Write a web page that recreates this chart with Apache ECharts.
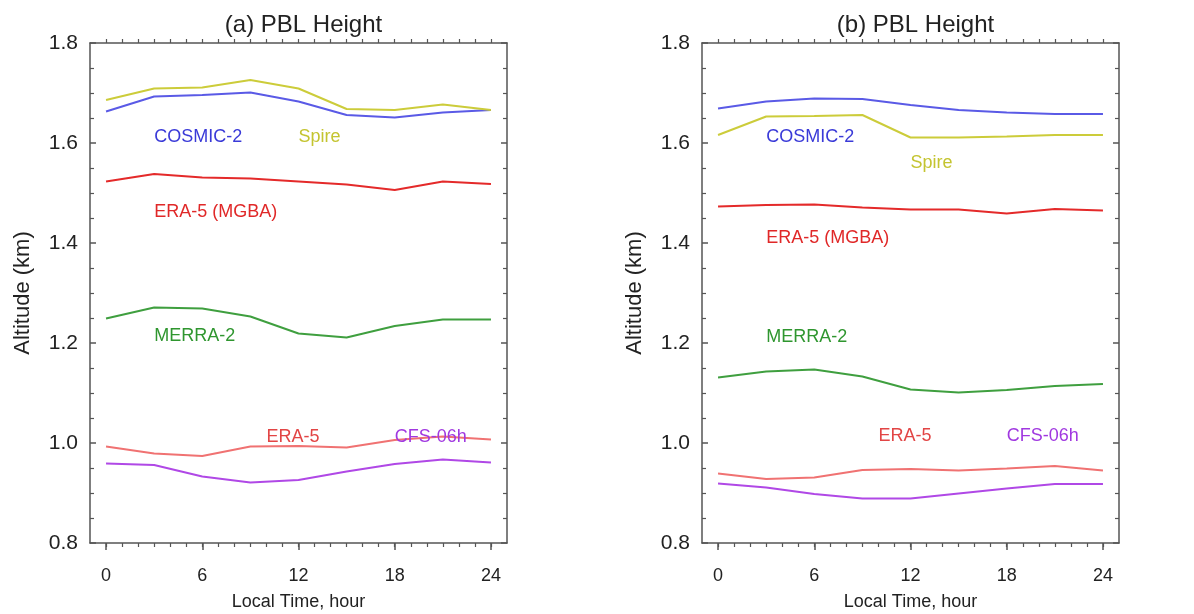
<!DOCTYPE html>
<html>
<head>
<meta charset="utf-8">
<script src="https://cdn.jsdelivr.net/npm/echarts@6/dist/echarts.min.js"></script>
<style>
html,body{margin:0;padding:0;background:#fff;}
#c{width:1194px;height:614px;}
</style>
</head>
<body>
<div id="c"></div>
<script>
// ---- data ----
const hours = [0, 3, 6, 9, 12, 15, 18, 21, 24];
const xTickLabels = [0, 6, 12, 18, 24];
const xMinorTicks = [0,1,2,3,4,5,6,7,8,9,10,11,12,13,14,15,16,17,18,19,20,21,22,23,24];
const panelTitles = ['(a) PBL Height', '(b) PBL Height'];
const seriesNames = ['COSMIC-2', 'Spire', 'ERA-5 (MGBA)', 'MERRA-2', 'ERA-5', 'CFS-06h'];

// panel (a)
const aCosmic = [1.663, 1.693, 1.696, 1.701, 1.683, 1.656, 1.651, 1.661, 1.666];
const aSpire  = [1.686, 1.709, 1.711, 1.726, 1.709, 1.668, 1.666, 1.677, 1.666];
const aEraMgba= [1.523, 1.538, 1.531, 1.529, 1.523, 1.517, 1.506, 1.523, 1.518];
const aMerra  = [1.249, 1.271, 1.269, 1.253, 1.219, 1.211, 1.234, 1.247, 1.247];
const aEra5   = [0.993, 0.979, 0.974, 0.993, 0.994, 0.991, 1.006, 1.013, 1.007];
const aCfs    = [0.959, 0.956, 0.933, 0.921, 0.926, 0.943, 0.958, 0.967, 0.961];

// panel (b)
const bCosmic = [1.669, 1.683, 1.689, 1.688, 1.676, 1.666, 1.661, 1.658, 1.658];
const bSpire  = [1.616, 1.653, 1.654, 1.656, 1.611, 1.611, 1.613, 1.616, 1.616];
const bEraMgba= [1.473, 1.476, 1.477, 1.471, 1.467, 1.467, 1.459, 1.468, 1.465];
const bMerra  = [1.131, 1.143, 1.147, 1.133, 1.107, 1.101, 1.106, 1.114, 1.118];
const bEra5   = [0.939, 0.928, 0.931, 0.946, 0.948, 0.945, 0.949, 0.954, 0.945];
const bCfs    = [0.919, 0.911, 0.898, 0.889, 0.889, 0.899, 0.909, 0.918, 0.918];

// in-plot label anchors (data units: hour, km)
const aLabelAt = [[3, 1.612], [12, 1.612], [3, 1.462], [3, 1.214], [10, 1.012], [18, 1.012]];
const bLabelAt = [[3, 1.612], [12, 1.560], [3, 1.410], [3, 1.212], [10, 1.014], [18, 1.014]];

// ---- styles ----
const lineColors = ['#5a5ae6', '#cccc3a', '#e42a2a', '#3f9f3f', '#f07272', '#b048e6'];
const textColors = ['#3a3ad8', '#c4c430', '#e02828', '#2f962f', '#e24545', '#a038e0'];
const FONT = '"Liberation Sans", Arial, Helvetica, sans-serif';
const AX = '#555';

const grids = [
  {left: 90, top: 43, width: 417, height: 500, outerBoundsMode: 'none', containLabel: false},
  {left: 702, top: 43, width: 417, height: 500, outerBoundsMode: 'none', containLabel: false}
];

const panels = [
  {vals: [aCosmic, aSpire, aEraMgba, aMerra, aEra5, aCfs], labels: aLabelAt},
  {vals: [bCosmic, bSpire, bEraMgba, bMerra, bEra5, bCfs], labels: bLabelAt}
];

const xAxes = [], yAxes = [], series = [], titles = [];
grids.forEach((g, gi) => {
  titles.push({
    text: panelTitles[gi], left: g.left + g.width / 2, top: 8, textAlign: 'center',
    textStyle: {fontFamily: FONT, fontSize: 24, fontWeight: 'normal', color: '#222'}
  });
  const xBase = {type: 'value', gridIndex: gi, min: -1, max: 25, splitLine: {show: false}};
  const majorIdx = xAxes.length;
  xAxes.push(Object.assign({}, xBase, {
    position: 'bottom',
    name: 'Local Time, hour', nameLocation: 'middle', nameGap: 50,
    nameTextStyle: {fontFamily: FONT, fontSize: 18, color: '#222'},
    axisLine: {show: true, onZero: false, lineStyle: {color: AX, width: 1.5}},
    axisTick: {show: true, customValues: xTickLabels, length: 7, lineStyle: {color: AX, width: 1.5}},
    axisLabel: {show: true, customValues: xTickLabels, margin: 24, fontFamily: FONT, fontSize: 18, color: '#222'}
  }));
  xAxes.push(Object.assign({}, xBase, {
    position: 'bottom',
    axisLine: {show: false, onZero: false},
    axisTick: {show: true, customValues: xMinorTicks, length: 4, lineStyle: {color: AX, width: 1.2}},
    axisLabel: {show: false}
  }));
  xAxes.push(Object.assign({}, xBase, {
    position: 'top',
    axisLine: {show: true, onZero: false, lineStyle: {color: AX, width: 1.5}},
    axisTick: {show: true, customValues: xMinorTicks, length: 4, lineStyle: {color: AX, width: 1.2}},
    axisLabel: {show: false}
  }));
  const yBase = {
    type: 'value', gridIndex: gi, min: 0.8, max: 1.8, interval: 0.2, splitLine: {show: false},
    axisLine: {show: true, onZero: false, lineStyle: {color: AX, width: 1.5}},
    axisTick: {show: true, inside: true, length: 6, lineStyle: {color: AX, width: 1.5}},
    minorTick: {show: true, splitNumber: 4, length: 4, lineStyle: {color: AX, width: 1.2}},
    minorSplitLine: {show: false}
  };
  const yIdx = yAxes.length;
  yAxes.push(Object.assign({}, yBase, {
    position: 'left',
    name: 'Altitude (km)', nameLocation: 'middle', nameGap: 56, nameRotate: 90,
    nameTextStyle: {fontFamily: FONT, fontSize: 22, color: '#222'},
    axisLabel: {show: true, margin: 12, fontFamily: FONT, fontSize: 21, color: '#222',
      formatter: v => v.toFixed(1)}
  }));
  yAxes.push(Object.assign({}, yBase, {position: 'right', axisLabel: {show: false}}));

  const p = panels[gi];
  p.vals.forEach((vals, si) => {
    series.push({
      type: 'line', name: seriesNames[si], xAxisIndex: majorIdx, yAxisIndex: yIdx,
      data: hours.map((h, i) => [h, vals[i]]),
      showSymbol: false, symbol: 'none', smooth: false, silent: true,
      lineStyle: {color: lineColors[si], width: 2},
      markPoint: {
        silent: true, symbol: 'circle', symbolSize: 0, animation: false,
        data: [{coord: p.labels[si], name: seriesNames[si]}],
        label: {show: true, position: 'right', distance: 0, formatter: seriesNames[si],
          fontFamily: FONT, fontSize: 18, color: textColors[si]}
      }
    });
  });
});

const chart = echarts.init(document.getElementById('c'), null, {renderer: 'canvas'});
chart.setOption({
  animation: false,
  backgroundColor: '#fff',
  title: titles,
  grid: grids,
  xAxis: xAxes,
  yAxis: yAxes,
  series: series
});
</script>
</body>
</html>
